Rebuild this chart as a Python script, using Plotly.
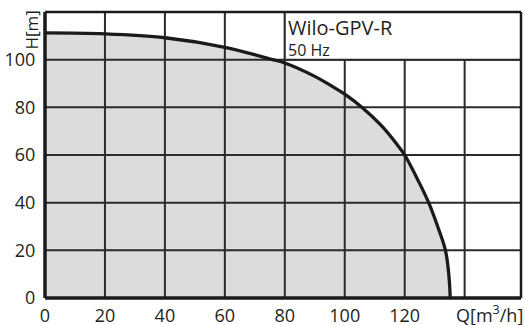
import plotly.graph_objects as go

# Pump curve data (Q in m3/h, H in m)
Q = [0, 20, 40, 60, 76, 80, 90, 95, 100, 105.7, 112, 117.4, 120, 124.6, 128, 131, 133.6, 134.7, 135.2]
H = [111.2, 110.8, 109.2, 105.2, 100, 98.6, 93.0, 89.4, 85.5, 80, 72.6, 64.5, 60, 49, 40, 30, 20, 10, 0]

x_ticks = [0, 20, 40, 60, 80, 100, 120]
y_ticks = [0, 20, 40, 60, 80, 100]
x_grid = [20, 40, 60, 80, 100, 120, 140]
y_grid = [20, 40, 60, 80, 100]

X_MAX = 158.8
Y_MAX = 120

TXT = "#231f20"
GRID = "#2b2b2b"
FILL = "#dcdcde"
FONT = "Open Sans"

fig = go.Figure()

# filled area under curve
fig.add_trace(go.Scatter(x=Q, y=H, mode="lines", line=dict(width=0, shape="spline", smoothing=1.0),
                         fill="tozeroy", fillcolor=FILL, hoverinfo="skip", showlegend=False))

# grid lines drawn above the fill
gx, gy = [], []
for v in x_grid:
    gx += [v, v, None]
    gy += [0, Y_MAX, None]
for v in y_grid:
    gx += [0, X_MAX, None]
    gy += [v, v, None]
fig.add_trace(go.Scatter(x=gx, y=gy, mode="lines", line=dict(color=GRID, width=2),
                         hoverinfo="skip", showlegend=False, cliponaxis=True))

# curve
fig.add_trace(go.Scatter(x=Q, y=H, mode="lines", line=dict(color="#1a1a1a", width=3.3, shape="spline", smoothing=1.0),
                         showlegend=False))

shapes = [
    # label box
    dict(type="rect", xref="x", yref="y", x0=80, x1=X_MAX, y0=100, y1=Y_MAX,
         fillcolor="white", line=dict(color=GRID, width=2), layer="above"),
    # frame
    dict(type="line", xref="paper", yref="paper", x0=0, x1=1, y0=1, y1=1, line=dict(color="#1a1a1a", width=2.5), layer="above"),
    dict(type="line", xref="paper", yref="paper", x0=1, x1=1, y0=0, y1=1, line=dict(color="#1a1a1a", width=2.5), layer="above"),
    dict(type="line", xref="paper", yref="paper", x0=0, x1=0, y0=0, y1=1, line=dict(color="#1a1a1a", width=3.5), layer="above"),
    dict(type="line", xref="paper", yref="paper", x0=0, x1=1, y0=0, y1=0, line=dict(color="#1a1a1a", width=3.5), layer="above"),
]

annotations = [
    dict(text="Wilo-GPV-R", xref="x", yref="y", x=80, y=113.7, xanchor="left", yanchor="middle",
         xshift=1, showarrow=False, font=dict(family=FONT, size=20, color=TXT)),
    dict(text="50 Hz", xref="x", yref="y", x=80, y=104.0, xanchor="left", yanchor="middle",
         xshift=1, showarrow=False, font=dict(family=FONT, size=16, color=TXT)),
    dict(text="H[m]", xref="paper", yref="y", x=0, y=113.5, xanchor="center", yanchor="middle",
         xshift=-14, yshift=-3, textangle=-90, showarrow=False, font=dict(family=FONT, size=17, color=TXT)),
    dict(text="Q[m<sup>3</sup>/h]", xref="paper", yref="paper", x=1, y=0, xanchor="right", yanchor="middle",
         xshift=4, yshift=-16, showarrow=False, font=dict(family=FONT, size=18, color=TXT)),
]

fig.update_layout(
    width=525, height=325,
    margin=dict(l=45, r=4, t=12, b=27, autoexpand=False),
    paper_bgcolor="white", plot_bgcolor="white",
    shapes=shapes, annotations=annotations,
    xaxis=dict(range=[0, X_MAX], tickvals=x_ticks, ticktext=[str(v) for v in x_ticks],
               showgrid=False, zeroline=False, showline=False, automargin=False,
               ticks="outside", ticklen=1, tickcolor="rgba(0,0,0,0)",
               tickfont=dict(family=FONT, size=18, color=TXT), fixedrange=True),
    yaxis=dict(range=[0, Y_MAX], tickvals=y_ticks, ticktext=[str(v) for v in y_ticks],
               showgrid=False, zeroline=False, showline=False, automargin=False,
               ticks="outside", ticklen=5, tickcolor="rgba(0,0,0,0)",
               tickfont=dict(family=FONT, size=18, color=TXT), fixedrange=True),
)

fig.write_html("out.html", config={"staticPlot": True},
               post_script="document.body.style.margin='0';document.body.style.padding='0';document.documentElement.style.overflow='hidden';")
